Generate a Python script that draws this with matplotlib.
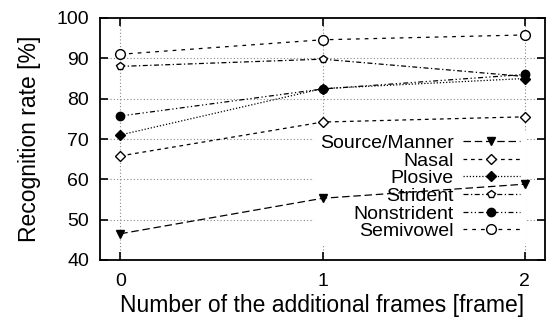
import matplotlib
matplotlib.use("Agg")
import matplotlib.pyplot as plt

plt.rcParams['font.family'] = ['Liberation Sans', 'DejaVu Sans']

frames = [0, 1, 2]
labels = ['Source/Manner', 'Nasal', 'Plosive', 'Strident', 'Nonstrident', 'Semivowel']
source_manner = [46.5, 55.3, 58.8]
nasal = [65.8, 74.2, 75.5]
plosive = [71.0, 82.5, 85.0]
strident = [88.0, 89.8, 85.5]
nonstrident = [75.7, 82.4, 86.0]
semivowel = [91.0, 94.6, 95.8]

series = [source_manner, nasal, plosive, strident, nonstrident, semivowel]
markers = ['v', 'D', 'D', 'p', 'o', 'o']
filled = [True, False, True, False, True, False]
dashes = [(6, 3), (3, 3), (1, 1.5), (4, 2, 1, 2), (4, 2, 1, 2, 1, 2), (3, 4)]
msizes = [6, 5, 5, 6, 6, 7]

fig = plt.figure(figsize=(5.48, 3.2), dpi=100)
ax = fig.add_axes([100/548, 60/320, 445/548, 242/320])

for y, lab, m, f, d, ms in zip(series, labels, markers, filled, dashes, msizes):
    ax.plot(frames, y, color='black', lw=0.9, dashes=d, marker=m, markersize=ms,
            markerfacecolor='black' if f else 'white', markeredgecolor='black',
            markeredgewidth=1.0, label=lab, zorder=3)

ax.set_xlim(-0.1, 2.1)
ax.set_ylim(40, 100)
ax.set_xticks(frames)
ax.set_yticks(range(40, 101, 10))

# dotted grid, the key hides part of it
for v in frames:
    ax.axvline(v, color='#888888', lw=0.8, ls=(0, (1, 2)), zorder=1)
for v in range(50, 100, 10):
    ax.axhline(v, color='#888888', lw=0.8, ls=(0, (1, 2)), zorder=1)

ax.tick_params(direction='in', length=6, width=1.2, top=True, right=True,
               labelsize=14)
ax.tick_params(axis='x', pad=9)
ax.tick_params(axis='y', pad=8)
for s in ax.spines.values():
    s.set_linewidth(1.3)

ax.set_xlabel('Number of the additional frames [frame]', fontsize=16.5, labelpad=3)
ax.set_ylabel('Recognition rate [%]', fontsize=16.5, labelpad=11)

leg = ax.legend(loc='lower right', bbox_to_anchor=(0.957, 0.058), markerfirst=False,
                frameon=True, fontsize=14, handlelength=2.95, handletextpad=0.46,
                labelspacing=0.0, borderpad=0.3, borderaxespad=0)
leg.get_frame().set_edgecolor('none')
leg.get_frame().set_facecolor('white')
leg.get_frame().set_alpha(1)
leg.set_zorder(2)

fig.savefig('out.png', dpi=100)
